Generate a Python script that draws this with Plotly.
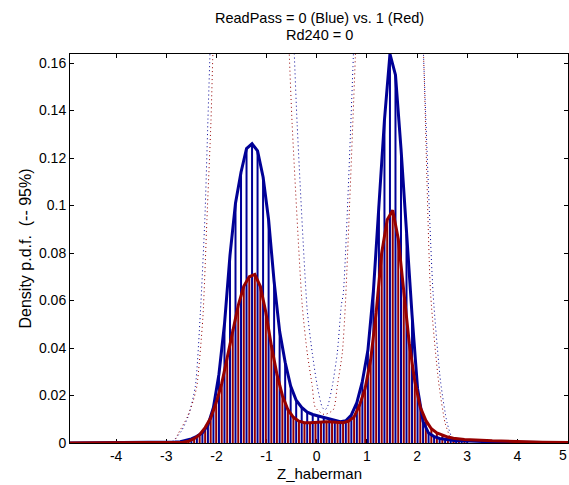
import plotly.graph_objects as go

# ---------------- data ----------------
# blue density, evaluated on its grid (step ~0.11)
GRID_BLUE = [round(-2.94 + 0.11 * i, 3) for i in range(55)]
BLUE_VALS = [0.0002, 0.0004, 0.0005, 0.001, 0.0017, 0.0028, 0.0043, 0.0075, 0.015, 0.029,
             0.050, 0.079, 0.101, 0.114, 0.124, 0.126, 0.123, 0.112, 0.094, 0.068,
             0.047, 0.034, 0.024, 0.018, 0.015, 0.013, 0.012, 0.0114, 0.0108, 0.0101,
             0.0095, 0.009, 0.0094, 0.0118, 0.017, 0.026, 0.039, 0.064, 0.100, 0.136,
             0.1638, 0.155, 0.124, 0.088, 0.054, 0.023, 0.009, 0.0042, 0.0027, 0.0019,
             0.0015, 0.0012, 0.001, 0.0009, 0.0008]
BLUE_TAIL_L_X = [-4.92, -4.0, -3.5]
BLUE_TAIL_L_Y = [0.0, 0.00005, 0.0001]
BLUE_TAIL_R_X = [3.5, 4.0, 4.5, 5.01]
BLUE_TAIL_R_Y = [0.0005, 0.0003, 0.0002, 0.0001]

# red density, evaluated on its grid (offset half a step)
GRID_RED = [round(-2.885 + 0.11 * i, 3) for i in range(54)]
RED_VALS = [0.0001, 0.0002, 0.0003, 0.0008, 0.0018, 0.0035, 0.0065, 0.0105, 0.017, 0.025,
            0.036, 0.048, 0.058, 0.066, 0.070, 0.071, 0.066, 0.055, 0.041, 0.029,
            0.020, 0.014, 0.0108, 0.0092, 0.0085, 0.0085, 0.0087, 0.009, 0.009, 0.0088,
            0.0086, 0.0085, 0.0092, 0.011, 0.016, 0.023, 0.035, 0.055, 0.080, 0.094,
            0.098, 0.086, 0.064, 0.042, 0.026, 0.015, 0.0095, 0.006, 0.0042, 0.0032,
            0.0025, 0.002, 0.0017, 0.0015]
RED_TAIL_L_X = [-4.92, -4.0, -3.5, -3.05]
RED_TAIL_L_Y = [0.0, 0.00003, 0.00005, 0.0001]
RED_TAIL_R_X = [3.5, 4.0, 4.5, 5.01]
RED_TAIL_R_Y = [0.0009, 0.0005, 0.0003, 0.0002]

# 95% dotted curves
BLUE_DOT_X = [-2.95, -2.86, -2.7, -2.55, -2.42, -2.32, -2.23, -2.17, -2.12, -2.0, -1.2,
              -0.6, -0.45, -0.39, -0.19, -0.09, 0.01, 0.11, 0.16, 0.21, 0.31, 0.41, 0.49,
              0.53, 0.73, 0.85, 1.5, 2.0, 2.13, 2.32, 2.47, 2.60, 2.72, 2.8]
BLUE_DOT_Y = [0.0, 0.001, 0.005, 0.012, 0.024, 0.055, 0.095, 0.136, 0.17, 0.25, 0.35,
              0.25, 0.165, 0.134, 0.056, 0.038, 0.024, 0.015, 0.014, 0.015, 0.024, 0.038, 0.058,
              0.063, 0.163, 0.25, 0.45, 0.25, 0.163, 0.063, 0.0257, 0.0084, 0.001, 0.0]
RED_DOT_X = [-2.85, -2.76, -2.58, -2.46, -2.39, -2.27, -2.19, -2.11, -2.07, -1.95, -1.2,
             -0.7, -0.55, -0.49, -0.29, -0.19, -0.09, -0.03, 0.15, 0.33, 0.41, 0.51, 0.57,
             0.77, 0.9, 1.5, 1.95, 2.13, 2.27, 2.43, 2.56, 2.66, 2.75]
RED_DOT_Y = [0.0, 0.004, 0.011, 0.018, 0.024, 0.053, 0.094, 0.135, 0.165, 0.25, 0.3,
             0.25, 0.165, 0.134, 0.058, 0.038, 0.024, 0.015, 0.012, 0.014, 0.024, 0.038, 0.058,
             0.163, 0.25, 0.35, 0.25, 0.163, 0.063, 0.0257, 0.0084, 0.0025, 0.0]

X_TICKS = [-4, -3, -2, -1, 0, 1, 2, 3, 4, 5]
X_TICK_TEXT = ["-4", "-3", "-2", "-1", "0", "1", "2", "3", "4", ""]  # last one drawn right-aligned below
X_LAST_LABEL = "5"
Y_TICKS = [0, 0.02, 0.04, 0.06, 0.08, 0.1, 0.12, 0.14, 0.16]
Y_TICK_TEXT = ["0", "0.02", "0.04", "0.06", "0.08", "0.1", "0.12", "0.14", "0.16"]

TITLE_LINES = ["ReadPass = 0 (Blue) vs. 1 (Red)", "Rd240 = 0"]
X_TITLE = "Z_haberman"
Y_TITLE = "Density p.d.f.  (-- 95%)"

BLUE = "#000096"
RED = "#960000"
FONT = "Liberation Sans, Arial, sans-serif"


def stems(xs, ys):
    sx, sy = [], []
    for x, y in zip(xs, ys):
        sx += [x, x, None]
        sy += [0, y, None]
    return sx, sy


fig = go.Figure()
bsx, bsy = stems(GRID_BLUE, BLUE_VALS)
rsx, rsy = stems(GRID_RED, RED_VALS)
fig.add_trace(go.Scatter(x=bsx, y=bsy, mode="lines", line=dict(color=BLUE, width=2), hoverinfo="skip"))
fig.add_trace(go.Scatter(x=rsx, y=rsy, mode="lines", line=dict(color=RED, width=2), hoverinfo="skip"))

fig.add_trace(go.Scatter(x=BLUE_DOT_X, y=BLUE_DOT_Y, mode="lines",
                         line=dict(color=BLUE, width=1, dash="1px,3px", shape="spline", smoothing=0.6)))
fig.add_trace(go.Scatter(x=RED_DOT_X, y=RED_DOT_Y, mode="lines",
                         line=dict(color=RED, width=1, dash="1px,3px", shape="spline", smoothing=0.6)))

fig.add_trace(go.Scatter(x=BLUE_TAIL_L_X + GRID_BLUE + BLUE_TAIL_R_X,
                         y=BLUE_TAIL_L_Y + BLUE_VALS + BLUE_TAIL_R_Y,
                         mode="lines", line=dict(color=BLUE, width=3)))
fig.add_trace(go.Scatter(x=RED_TAIL_L_X + GRID_RED + RED_TAIL_R_X,
                         y=RED_TAIL_L_Y + RED_VALS + RED_TAIL_R_Y,
                         mode="lines", line=dict(color=RED, width=3)))

axis_common = dict(showline=True, linecolor="black", linewidth=1, mirror="ticks",
                   ticks="inside", ticklen=4, tickcolor="black", showgrid=False,
                   zeroline=False, automargin=False,
                   tickfont=dict(family=FONT, size=14, color="black"),
                   layer="below traces")

fig.update_layout(
    width=569, height=485,
    margin=dict(l=70, r=1, t=54, b=42),
    paper_bgcolor="white", plot_bgcolor="white",
    showlegend=False,
    font=dict(family=FONT, size=14, color="black"),
    xaxis=dict(range=[-4.92, 5.01], tickvals=X_TICKS, ticktext=X_TICK_TEXT, **axis_common),
    yaxis=dict(range=[0, 0.1638], tickvals=Y_TICKS, ticktext=Y_TICK_TEXT, **axis_common),
    annotations=[
        dict(text=TITLE_LINES[0], xref="paper", yref="paper", x=0.5, y=1, yshift=36,
             xanchor="center", yanchor="middle", showarrow=False, font=dict(size=14.5)),
        dict(text=TITLE_LINES[1], xref="paper", yref="paper", x=0.5, y=1, yshift=19,
             xanchor="center", yanchor="middle", showarrow=False, font=dict(size=14.5)),
        dict(text=X_TITLE, xref="paper", yref="paper", x=0.5, y=0, yshift=-30,
             xanchor="center", yanchor="middle", showarrow=False, font=dict(size=15)),
        dict(text=Y_TITLE, xref="paper", yref="paper", x=0, y=0.5, yshift=0, xshift=-45,
             xanchor="center", yanchor="middle", textangle=-90, showarrow=False, font=dict(size=16)),
        dict(text=X_LAST_LABEL, xref="x", yref="paper", x=X_TICKS[-1], y=0, yshift=-12, xshift=1,
             xanchor="right", yanchor="middle", showarrow=False, font=dict(size=14)),
    ],
)

fig.write_html("out.html", config={"displayModeBar": False},
               post_script="document.body.style.margin='0px';")
